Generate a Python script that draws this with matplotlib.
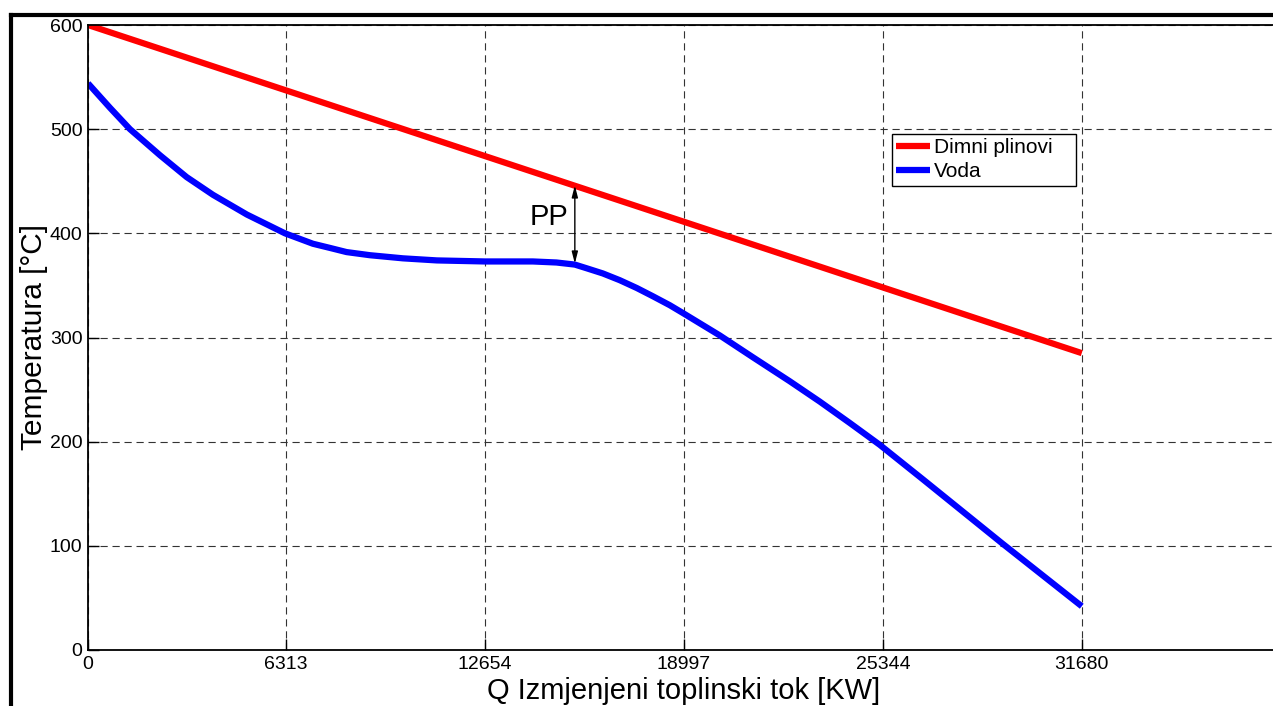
import numpy as np
import matplotlib
matplotlib.use("Agg")
import matplotlib.pyplot as plt
from matplotlib.lines import Line2D

plt.rcParams['font.family'] = ['Liberation Sans', 'DejaVu Sans']

# data
q_gas = [0, 31680]
t_gas = [600, 285]

q_voda = [0, 701, 1338, 2294, 3145, 3983, 5067, 6280, 7170, 7712, 8243, 8987,
          10040, 11121, 12654, 14181, 14935, 15520, 15892, 16412, 16953,
          17495, 18014, 18547, 18965, 20140, 21198, 22371, 23327, 24283,
          25239, 26609, 29158, 31680]
t_voda = [544, 520.5, 500, 475, 454, 437, 418, 400, 390, 386, 382, 379,
          376, 374, 373, 373, 372, 370, 366.5, 361.5, 355,
          347.5, 339.5, 331, 323.5, 302, 281, 258, 238.5, 218,
          197, 164, 102, 42]

x_ticks = [0, 6313, 12654, 18997, 25344, 31680]
y_ticks = [0, 100, 200, 300, 400, 500, 600]

pp_q = 15520
pp_top = 446
pp_bottom = 371

W, H = 1273, 706
fig = plt.figure(figsize=(W / 100, H / 100), dpi=100)
ax = fig.add_axes([88 / W, 56 / H, 1192 / W, 625 / H])

ax.plot(q_gas, t_gas, color=(1, 0, 0), lw=4.5, label='Dimni plinovi', solid_capstyle='butt')
ax.plot(q_voda, t_voda, color=(0, 0, 1), lw=4.5, label='Voda', solid_capstyle='butt',
        solid_joinstyle='round')

ax.set_xlim(0, 38000)
ax.set_ylim(0, 600)
ax.set_xticks(x_ticks)
ax.set_xticklabels([str(v) for v in x_ticks])
ax.set_yticks(y_ticks)
ax.tick_params(direction='in', length=8, width=1, labelsize=14, pad=4)
ax.grid(True, color='0.2', lw=0.8, linestyle=(0, (6.5, 4.3)))
for s in ax.spines.values():
    s.set_linewidth(1.3)

ax.set_xlabel('Q Izmjenjeni toplinski tok [KW]', fontsize=21, labelpad=3)
ax.set_ylabel('Temperatura [°C]', fontsize=21.5, labelpad=1)

# PP arrow and label
ax.annotate('', xy=(pp_q, pp_top), xytext=(pp_q, pp_bottom),
            arrowprops=dict(arrowstyle='<|-|>,head_length=0.7,head_width=0.18',
                            color='k', lw=1, shrinkA=0, shrinkB=0))
ax.text(pp_q - 220, 416, 'PP', ha='right', va='center', fontsize=21)

leg_w = (1076 - 892) / 1192
leg_h = (190 - 134) / 625
leg = ax.legend(loc='upper left', bbox_to_anchor=(0.6745, 0.8256 - leg_h, leg_w, leg_h),
                mode='expand', borderaxespad=0, fancybox=False, framealpha=1,
                edgecolor='k', fontsize=15, handlelength=1.6, handletextpad=0.2,
                labelspacing=0.25, borderpad=0.2)
leg.get_frame().set_linewidth(1)

# outer black frame (partially cut off)
fig.add_artist(Line2D([11 / W, 1.01], [1 - 15 / H, 1 - 15 / H], color='k', lw=3, transform=fig.transFigure))
fig.add_artist(Line2D([11 / W, 11 / W], [1 - 15 / H, -0.01], color='k', lw=3, transform=fig.transFigure))

fig.savefig('out.png', dpi=100)
